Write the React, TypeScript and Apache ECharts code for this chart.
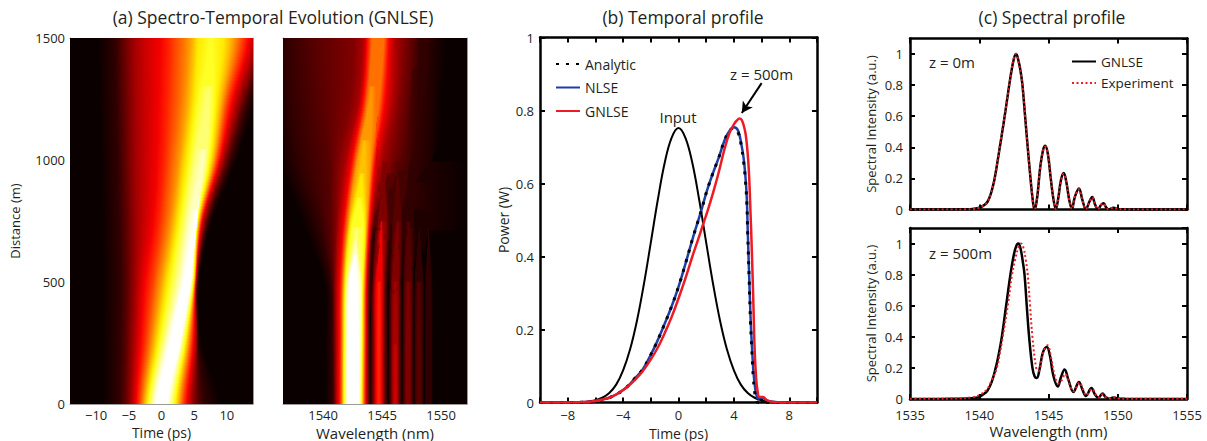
import React, { useEffect, useRef } from "react";
import * as echarts from "echarts";

const FONT = "Open Sans";
const INK = "#231f20";

// ---- panel (a) left: contours of the evolution map in time (first level = edge of the black)
const mapLevels = [0, 0.06, 0.12, 0.18, 0.24, 0.3, 0.36, 0.42, 0.48, 0.54, 0.6, 0.66, 0.72, 0.78, 0.84, 0.9, 0.96];
const timeZ = [0, 250, 500, 750, 1000, 1250, 1500];
const timeTipZ = [null, null, null, null, null, null, null, null, null, null, null, null, null, null, 1300, 1050, 850];
const timeLeft = [
  [-9, -9, -9, -9.2, -9.4, -9.6, -9.8],
  [-6.47, -6.4, -6.3, -6.5, -6.7, -6.9, -7.0],
  [-5.62, -5.45, -5.3, -5.5, -5.7, -5.9, -6.1],
  [-5.05, -4.85, -4.6, -4.6, -4.8, -4.9, -5.1],
  [-4.61, -4.25, -3.9, -3.7, -3.8, -3.9, -4.0],
  [-4.23, -3.75, -3.3, -2.5, -2.3, -2.3, -2.4],
  [-3.9, -3.25, -2.6, -1.3, -0.7, -0.4, -0.2],
  [-3.6, -2.75, -1.9, -0.5, 0.3, 0.8, 1.1],
  [-3.31, -2.3, -1.2, 0.2, 1.1, 1.8, 2.1],
  [-3.03, -1.85, -0.7, 0.9, 1.9, 2.9, 3.3],
  [-2.76, -1.45, -0.1, 1.5, 2.7, 3.7, 4.3],
  [-2.5, -1.05, 0.4, 2.0, 3.2, 4.4, 5.0],
  [-2.21, -0.65, 0.9, 2.5, 3.8, 5.0, 5.6],
  [-1.92, -0.25, 1.45, 3.0, 4.4, 5.7, 7.6],
  [-1.61, 0.2, 2.1, 3.6, 5.0, 7.2],
  [-1.25, 0.7, 2.8, 4.2, 6.5],
  [-0.78, 1.25, 3.3, 5.7],
];
const timeRight = [
  [9, 6.2, 5.8, 7.7, 11.5, 14.5, 18],
  [6.47, 5.6, 5.5, 7.2, 10.6, 13.4, 16.5],
  [5.62, 5.5, 5.45, 6.9, 10.1, 12.8, 15.8],
  [5.05, 5.4, 5.4, 6.7, 9.7, 12.3, 15.2],
  [4.61, 5.25, 5.35, 6.5, 9.4, 11.8, 14.6],
  [4.23, 5.05, 5.3, 6.35, 9.1, 11.3, 14.0],
  [3.9, 4.9, 5.25, 6.2, 8.9, 10.9, 13.4],
  [3.6, 4.7, 5.2, 6.1, 8.7, 10.5, 12.9],
  [3.31, 4.5, 5.15, 6.0, 8.45, 10.1, 12.3],
  [3.03, 4.3, 5.1, 5.9, 8.25, 9.75, 11.7],
  [2.76, 4.1, 5.05, 5.8, 8.05, 9.4, 11.1],
  [2.5, 3.9, 5.0, 5.7, 7.8, 9.0, 10.4],
  [2.21, 3.7, 4.9, 5.6, 7.55, 8.5, 9.5],
  [1.92, 3.5, 4.8, 5.5, 7.2, 8.0, 7.6],
  [1.61, 3.25, 4.7, 5.4, 6.9, 7.2],
  [1.25, 3.0, 4.6, 5.3, 6.5],
  [0.78, 2.8, 4.4, 5.7],
];

// ---- panel (a) right: contours in wavelength
const waveZ = [0, 250, 500, 750, 1000, 1250, 1500];
const waveTipZ = [null, null, null, null, null, null, null, null, null, null, 1300, 1080, 950, 850, 720, 680, 620];
const waveLeft = [
  [1540.2, 1540.2, 1540.1, 1538.2, 1536.2, 1535.5, 1535],
  [1540.8, 1540.75, 1540.65, 1539.6, 1538.0, 1537.2, 1536.9],
  [1540.95, 1540.9, 1540.85, 1540.6, 1540.5, 1539.8, 1539.3],
  [1541.0, 1541.0, 1540.98, 1541.1, 1541.3, 1542.3, 1542.6],
  [1541.1, 1541.1, 1541.1, 1541.3, 1541.9, 1543.0, 1543.35],
  [1541.2, 1541.2, 1541.25, 1541.55, 1542.15, 1543.2, 1543.6],
  [1541.33, 1541.35, 1541.4, 1541.75, 1542.4, 1543.35, 1543.7],
  [1541.43, 1541.45, 1541.5, 1541.85, 1542.55, 1543.5, 1543.85],
  [1541.5, 1541.52, 1541.58, 1541.95, 1542.65, 1543.6, 1544.0],
  [1541.57, 1541.58, 1541.65, 1542.05, 1542.78, 1543.75, 1544.15],
  [1541.63, 1541.65, 1541.72, 1542.15, 1542.9, 1544.1],
  [1541.68, 1541.7, 1541.78, 1542.25, 1543.5],
  [1541.73, 1541.75, 1541.85, 1542.35, 1543.25],
  [1541.8, 1541.82, 1541.92, 1542.5, 1543.05],
  [1541.88, 1541.9, 1542.0, 1542.8],
  [1541.98, 1542.0, 1542.1, 1542.75],
  [1542.1, 1542.12, 1542.25, 1542.7],
];
const waveRight = [
  [1544.0, 1544.0, 1544.15, 1544.9, 1549.3, 1550, 1550.5],
  [1543.95, 1543.95, 1544.05, 1544.6, 1547.6, 1548.4, 1548.8],
  [1543.87, 1543.87, 1543.95, 1544.4, 1546.6, 1547.3, 1547.7],
  [1543.8, 1543.8, 1543.85, 1544.25, 1545.7, 1546.5, 1546.9],
  [1543.74, 1543.75, 1543.8, 1544.15, 1545.0, 1546.0, 1546.2],
  [1543.68, 1543.7, 1543.75, 1544.05, 1544.7, 1545.6, 1545.85],
  [1543.62, 1543.65, 1543.7, 1544.0, 1544.45, 1545.3, 1545.6],
  [1543.56, 1543.6, 1543.65, 1543.9, 1544.35, 1545.1, 1545.45],
  [1543.5, 1543.55, 1543.6, 1543.85, 1544.25, 1544.95, 1545.3],
  [1543.45, 1543.5, 1543.55, 1543.8, 1544.15, 1544.75, 1545.15],
  [1543.4, 1543.45, 1543.5, 1543.72, 1544.0, 1544.1],
  [1543.35, 1543.4, 1543.45, 1543.65, 1543.5],
  [1543.3, 1543.35, 1543.4, 1543.55, 1543.25],
  [1543.24, 1543.28, 1543.32, 1543.4, 1543.05],
  [1543.18, 1543.22, 1543.25, 1542.8],
  [1543.1, 1543.15, 1543.15, 1542.75],
  [1543.0, 1543.0, 1542.85, 1542.7],
];
// side lobes of the spectrum: level, left edge, right edge (knots at lobeZ, last knot is the tip)
const lobeZ = [0, 250, 500, 750, 1000];
const lobeLevels = [0, 0.06, 0.12, 0.18, 0.24, 0.3, 0.36, 0.42, 0, 0.06, 0.12, 0.18, 0.24, 0.3, 0, 0.06, 0.12, 0.18, 0, 0.06, 0.12, 0, 0.06];
const lobeLeft = [
  [1543.98, 1543.98, 1544.0, 1544.25, 1545.3],
  [1544.02, 1544.03, 1544.06, 1544.3, 1545.3],
  [1544.17, 1544.17, 1544.2, 1544.55, 1545.2],
  [1544.27, 1544.27, 1544.3, 1544.7, 1545.1],
  [1544.34, 1544.34, 1544.37, 1545.05],
  [1544.42, 1544.42, 1544.45, 1545.0],
  [1544.5, 1544.5, 1544.55, 1544.95],
  [1544.65, 1544.65, 1544.75],
  [1545.52, 1545.52, 1545.55, 1545.8, 1546.3],
  [1545.62, 1545.62, 1545.65, 1545.85, 1546.3],
  [1545.75, 1545.75, 1545.78, 1546.0, 1546.3],
  [1545.83, 1545.83, 1545.86, 1546.3],
  [1545.92, 1545.92, 1546.12],
  [1546.05, 1546.12],
  [1546.7, 1546.7, 1546.72, 1546.85, 1547.3],
  [1546.78, 1546.78, 1546.8, 1546.95, 1547.3],
  [1546.92, 1546.92, 1546.95, 1547.25],
  [1547.05, 1547.05, 1547.2],
  [1547.72, 1547.72, 1547.72, 1548.15],
  [1547.78, 1547.78, 1547.8, 1548.15],
  [1547.98, 1547.98, 1548.12],
  [1548.6, 1548.6, 1548.62, 1548.95],
  [1548.72, 1548.72, 1548.75, 1548.95],
];
const lobeRight = [
  [1545.52, 1545.52, 1545.54, 1545.8, 1545.3],
  [1545.42, 1545.42, 1545.44, 1545.7, 1545.3],
  [1545.27, 1545.27, 1545.3, 1545.5, 1545.2],
  [1545.17, 1545.17, 1545.2, 1545.4, 1545.1],
  [1545.1, 1545.1, 1545.13, 1545.05],
  [1545.02, 1545.02, 1545.05, 1545.0],
  [1544.94, 1544.94, 1544.95, 1544.95],
  [1544.8, 1544.8, 1544.75],
  [1546.7, 1546.7, 1546.72, 1546.85, 1546.3],
  [1546.6, 1546.6, 1546.62, 1546.75, 1546.3],
  [1546.48, 1546.48, 1546.5, 1546.6, 1546.3],
  [1546.4, 1546.4, 1546.42, 1546.3],
  [1546.32, 1546.32, 1546.12],
  [1546.2, 1546.12],
  [1547.72, 1547.72, 1547.73, 1547.75, 1547.3],
  [1547.62, 1547.62, 1547.63, 1547.65, 1547.3],
  [1547.48, 1547.48, 1547.5, 1547.25],
  [1547.35, 1547.35, 1547.2],
  [1548.55, 1548.55, 1548.56, 1548.15],
  [1548.45, 1548.45, 1548.46, 1548.15],
  [1548.28, 1548.28, 1548.12],
  [1549.3, 1549.3, 1549.3, 1548.95],
  [1549.15, 1549.15, 1549.12, 1548.95],
];
// the faint haze that fills the gaps between the lobes further along the fibre
const hazeLevels = [0.03, 0.06, 0.09];
const hazeZ = [[450, 600, 750, 1000, 1500], [600, 750, 1000, 1500], [700, 850, 1000, 1500]];
const hazeLeft = [[1546, 1544.5, 1544.3, 1544.5, 1544.5], [1546, 1544.6, 1544.5, 1544.5], [1546, 1544.8, 1544.6, 1544.6]];
const hazeRight = [[1546, 1548, 1549.2, 1549.2, 1549.5], [1546, 1547.5, 1548, 1548.2], [1546, 1546.9, 1547.3, 1547.6]];

// ---- panel (b)
const inputTime = [-10, -8, -7, -6.5, -6, -5.5, -5, -4.5, -4, -3.5, -3, -2.5, -2, -1.5, -1, -0.5, 0, 0.5, 1, 1.5, 2, 2.5, 3, 3.5, 4, 4.5, 5, 5.5, 6, 6.5, 7, 8, 10];
const inputPower = [0, 0, 0, 0.003, 0.006, 0.013, 0.026, 0.049, 0.088, 0.145, 0.224, 0.324, 0.438, 0.554, 0.656, 0.725, 0.752, 0.725, 0.656, 0.554, 0.438, 0.324, 0.224, 0.145, 0.088, 0.049, 0.026, 0.013, 0.006, 0.003, 0, 0, 0];
const nlseTime = [-10, -8, -7, -6.5, -6, -5.5, -5, -4.5, -4, -3.6, -3.2, -2.6, -2.07, -1.6, -1.06, -0.5, 0, 0.5, 1.06, 1.6, 2.05, 2.5, 2.9, 3.34, 3.7, 4, 4.3, 4.55, 4.7, 4.83, 4.93, 5, 5.1, 5.2, 5.3, 5.4, 5.5, 5.6, 5.75, 6, 6.35, 6.8, 7.5, 10];
const nlsePower = [0, 0, 0.001, 0.002, 0.004, 0.008, 0.013, 0.022, 0.034, 0.047, 0.064, 0.09, 0.126, 0.162, 0.21, 0.263, 0.317, 0.38, 0.454, 0.52, 0.58, 0.63, 0.67, 0.72, 0.745, 0.754, 0.745, 0.705, 0.67, 0.62, 0.56, 0.47, 0.35, 0.235, 0.155, 0.09, 0.05, 0.025, 0.011, 0.014, 0.006, 0.002, 0, 0];
const analyticPower = [0, 0, 0.001, 0.002, 0.004, 0.008, 0.013, 0.022, 0.034, 0.047, 0.064, 0.09, 0.126, 0.162, 0.21, 0.263, 0.317, 0.38, 0.454, 0.52, 0.58, 0.63, 0.67, 0.72, 0.745, 0.752, 0.74, 0.7, 0.66, 0.61, 0.55, 0.46, 0.34, 0.22, 0.14, 0.07, 0.03, 0.01, 0, 0, 0, 0, 0, 0];
const gnlseTime = [-10, -8, -7, -6.5, -6, -5.5, -5, -4.5, -4, -3.6, -3.2, -2.6, -2, -1.5, -1, -0.5, 0, 0.5, 1, 1.4, 1.75, 2.1, 2.5, 2.9, 3.34, 3.7, 4, 4.2, 4.4, 4.55, 4.7, 4.85, 5, 5.1, 5.2, 5.3, 5.4, 5.5, 5.6, 5.7, 5.85, 6.1, 6.4, 7, 8, 10];
const gnlsePower = [0, 0, 0.001, 0.002, 0.004, 0.008, 0.013, 0.022, 0.034, 0.046, 0.06, 0.085, 0.118, 0.15, 0.19, 0.234, 0.285, 0.34, 0.4, 0.445, 0.485, 0.525, 0.575, 0.63, 0.697, 0.74, 0.762, 0.772, 0.778, 0.775, 0.76, 0.735, 0.68, 0.62, 0.52, 0.41, 0.28, 0.143, 0.07, 0.034, 0.015, 0.015, 0.006, 0.001, 0, 0];

// ---- panel (c)
const specTop = [1535, 1538, 1539, 1539.5, 1540, 1540.3, 1540.6, 1540.85, 1541, 1541.1, 1541.25, 1541.5, 1541.75, 1542, 1542.25, 1542.5, 1542.66, 1542.85, 1543, 1543.12, 1543.31, 1543.5, 1543.7, 1543.85, 1543.98, 1544.05, 1544.2, 1544.4, 1544.6, 1544.76, 1544.95, 1545.15, 1545.35, 1545.53, 1545.7, 1545.9, 1546.1, 1546.3, 1546.5, 1546.69, 1546.9, 1547.2, 1547.45, 1547.7, 1547.95, 1548.16, 1548.37, 1548.57, 1548.8, 1548.98, 1549.15, 1549.34, 1549.7, 1550, 1550.5, 1551, 1555];
const gnlseTop = [0, 0, 0.001, 0.003, 0.012, 0.025, 0.05, 0.105, 0.155, 0.195, 0.27, 0.41, 0.55, 0.7, 0.85, 0.97, 1, 0.95, 0.88, 0.8, 0.6, 0.4, 0.2, 0.07, 0.005, 0.008, 0.09, 0.27, 0.38, 0.41, 0.36, 0.21, 0.07, 0.003, 0.07, 0.19, 0.235, 0.17, 0.06, 0.003, 0.08, 0.135, 0.06, 0.002, 0.05, 0.08, 0.03, 0.001, 0.03, 0.04, 0.015, 0.001, 0.012, 0.003, 0.001, 0, 0];
const experimentTop = [0, 0, 0.001, 0.003, 0.011, 0.026, 0.05, 0.107, 0.155, 0.193, 0.27, 0.415, 0.555, 0.7, 0.85, 0.975, 1, 0.945, 0.875, 0.8, 0.605, 0.4, 0.2, 0.072, 0.006, 0.008, 0.09, 0.27, 0.375, 0.405, 0.355, 0.21, 0.07, 0.004, 0.07, 0.185, 0.23, 0.17, 0.06, 0.004, 0.08, 0.13, 0.06, 0.003, 0.05, 0.078, 0.03, 0.002, 0.03, 0.038, 0.015, 0.002, 0.012, 0.003, 0.001, 0, 0];
const specGnlseBottom = [1535, 1538, 1539, 1539.9, 1540.3, 1540.6, 1540.9, 1541.19, 1541.4, 1541.63, 1541.94, 1542.25, 1542.5, 1542.7, 1542.83, 1543, 1543.15, 1543.27, 1543.43, 1543.6, 1543.84, 1544, 1544.16, 1544.35, 1544.6, 1544.88, 1545.1, 1545.35, 1545.67, 1545.9, 1546.16, 1546.45, 1546.8, 1547.2, 1547.45, 1547.7, 1548.1, 1548.35, 1548.6, 1548.9, 1549.1, 1549.35, 1549.7, 1550, 1550.5, 1551, 1555];
const gnlseBottom = [0, 0.001, 0.003, 0.01, 0.03, 0.055, 0.11, 0.2, 0.285, 0.4, 0.6, 0.8, 0.93, 0.99, 1, 0.96, 0.88, 0.8, 0.6, 0.4, 0.2, 0.145, 0.135, 0.19, 0.3, 0.335, 0.28, 0.15, 0.08, 0.14, 0.19, 0.12, 0.045, 0.11, 0.06, 0.02, 0.07, 0.03, 0.008, 0.035, 0.015, 0.002, 0.01, 0.003, 0.001, 0, 0];
const specExpBottom = [1535, 1537, 1538.5, 1539.58, 1540, 1540.54, 1540.9, 1541.27, 1541.5, 1541.7, 1542.06, 1542.37, 1542.6, 1542.85, 1543.02, 1543.2, 1543.35, 1543.5, 1543.67, 1543.84, 1544.11, 1544.28, 1544.5, 1544.7, 1544.93, 1545.2, 1545.45, 1545.72, 1545.95, 1546.2, 1546.5, 1546.8, 1547.24, 1547.5, 1547.72, 1548.15, 1548.4, 1548.6, 1548.9, 1549.15, 1549.4, 1549.7, 1550, 1551, 1555];
const experimentBottom = [0.001, 0.002, 0.004, 0.012, 0.025, 0.06, 0.12, 0.2, 0.3, 0.4, 0.6, 0.8, 0.9, 0.98, 1, 0.97, 0.9, 0.8, 0.6, 0.4, 0.2, 0.18, 0.25, 0.32, 0.345, 0.26, 0.15, 0.1, 0.12, 0.16, 0.1, 0.05, 0.105, 0.06, 0.025, 0.065, 0.03, 0.01, 0.03, 0.012, 0.003, 0.01, 0.004, 0.001, 0.001];

const timeTicks = [-10, -5, 0, 5, 10];
const waveTicks = [1540, 1545, 1550];

const zip = (x: number[], y: number[]) => x.map((v, i) => [v, y[i]]);
const clamp = (v: number) => Math.max(0, Math.min(1, v));
const hot = (i: number) =>
  `rgb(${Math.round(10 + 245 * clamp(i / 0.375))},${Math.round(255 * clamp((i - 0.375) / 0.375))},${Math.round(255 * clamp((i - 0.75) / 0.2))})`;
const minus = (v: any) => String(v).replace("-", "\u2212");

type Contour = { level: number; z: number[]; left: number[]; right: number[] };

// position of a contour edge at height z, following its knots with a cubic
function edgeAt(z: number, knots: number[], v: number[]) {
  const n = v.length;
  if (z < knots[0] || z > knots[n - 1]) return null;
  if (z === knots[n - 1]) return v[n - 1];
  let k = 0;
  while (k < n - 2 && z >= knots[k + 1]) k++;
  const t = (z - knots[k]) / (knots[k + 1] - knots[k]);
  const p0 = k > 0 ? v[k - 1] : v[k];
  const p1 = v[k];
  const p2 = v[k + 1];
  const p3 = k + 2 < n ? v[k + 2] : v[k + 1];
  return 0.5 * (2 * p1 + (p2 - p0) * t + (2 * p0 - 5 * p1 + 4 * p2 - p3) * t * t + (3 * p1 - p0 - 3 * p2 + p3) * t * t * t);
}

function mapSeries(contours: Contour[], xi: number, yi: number, xMin: number, xMax: number, rows: number) {
  const dz = 1500 / rows;
  return {
    type: "custom",
    xAxisIndex: xi,
    yAxisIndex: yi,
    clip: true,
    silent: true,
    data: Array.from({ length: rows }, (_, i) => [xMin, (i + 0.5) * dz]),
    renderItem: (_: any, api: any) => {
      const z = api.value(1);
      const spans: number[][] = [];
      for (const c of contours) {
        const l = edgeAt(z, c.z, c.left);
        const r = edgeAt(z, c.z, c.right);
        if (l !== null && r !== null && l <= r) spans.push([l, r, c.level]);
      }
      const xs = Array.from(new Set(spans.flatMap((s) => [s[0], s[1]]))).sort((a, b) => a - b);
      const a = Math.min(xMin, xs[0] ?? xMin);
      const b = Math.max(xMax, xs[xs.length - 1] ?? xMax);
      const level = (x: number) => spans.reduce((m, s) => (x >= s[0] && x <= s[1] && s[2] > m ? s[2] : m), 0);
      const stops = [a, ...xs, b].map((x) => ({ offset: clamp((x - a) / (b - a)), color: hot(level(x)) }));
      const p0 = api.coord([a, z + dz / 2]);
      const p1 = api.coord([b, z - dz / 2]);
      return {
        type: "rect",
        shape: { x: p0[0], y: p0[1] - 0.4, width: p1[0] - p0[0], height: p1[1] - p0[1] + 0.8 },
        style: { fill: new echarts.graphic.LinearGradient(0, 0, 1, 0, stops), stroke: null },
      };
    },
  };
}

export default function App() {
  const ref = useRef<HTMLDivElement>(null);
  useEffect(() => {
    const chart = echarts.init(ref.current!, undefined, { renderer: "svg" });
    const label = { color: INK, fontFamily: FONT, fontSize: 13 };
    const nameStyle = (fontSize: number) => ({ color: INK, fontFamily: FONT, fontSize });
    const plain = (v: number) => minus(v);

    const grids = [
      { left: 70, top: 38, width: 183, height: 366, backgroundColor: "#0a0000", show: true, borderWidth: 0, outerBoundsMode: "none" },
      { left: 283, top: 38, width: 184, height: 366, backgroundColor: "#0a0000", show: true, borderWidth: 0, outerBoundsMode: "none" },
      { left: 540, top: 37.5, width: 277, height: 365, show: false, outerBoundsMode: "none" },
      { left: 910, top: 38.5, width: 277, height: 171, show: false, outerBoundsMode: "none" },
      { left: 910, top: 228, width: 277, height: 171, show: false, outerBoundsMode: "none" },
    ];

    const thinLine = { show: true, onZero: false, lineStyle: { color: "#9a9a9a", width: 1 } };
    const boxLine = { show: true, onZero: false, lineStyle: { color: "#000", width: 2.5 } };
    const boxTick = { show: true, inside: true, length: 5, lineStyle: { color: "#000", width: 2 } };

    const xAxis: any[] = [
      { type: "value", gridIndex: 0, min: -14, max: 14, axisLine: thinLine, axisTick: { show: false, customValues: timeTicks }, splitLine: { show: false },
        axisLabel: { ...label, customValues: timeTicks, margin: 4, formatter: plain }, name: "Time (ps)", nameLocation: "middle", nameGap: 20, nameTextStyle: nameStyle(14) },
      { type: "value", gridIndex: 0, position: "top", min: -14, max: 14, axisLine: thinLine, axisTick: { show: false }, axisLabel: { show: false }, splitLine: { show: false } },
      { type: "value", gridIndex: 1, min: 1536.6, max: 1552.2, axisLine: thinLine, axisTick: { show: false, customValues: waveTicks }, splitLine: { show: false },
        axisLabel: { ...label, customValues: waveTicks, margin: 4, formatter: plain }, name: "Wavelength (nm)", nameLocation: "middle", nameGap: 19, nameTextStyle: nameStyle(15) },
      { type: "value", gridIndex: 1, position: "top", min: 1536.6, max: 1552.2, axisLine: thinLine, axisTick: { show: false }, axisLabel: { show: false }, splitLine: { show: false } },
      { type: "value", gridIndex: 2, min: -10, max: 10, interval: 2, axisLine: boxLine, axisTick: boxTick, splitLine: { show: false },
        axisLabel: { ...label, margin: 6, formatter: (v: number) => (v % 4 === 0 ? minus(v) : "") }, name: "Time (ps)", nameLocation: "middle", nameGap: 21, nameTextStyle: nameStyle(14) },
      { type: "value", gridIndex: 2, position: "top", min: -10, max: 10, interval: 2, axisLine: boxLine, axisTick: boxTick, axisLabel: { show: false }, splitLine: { show: false } },
      { type: "value", gridIndex: 3, min: 1535, max: 1555, interval: 5, axisLine: boxLine, axisTick: boxTick, axisLabel: { show: false }, splitLine: { show: false } },
      { type: "value", gridIndex: 3, position: "top", min: 1535, max: 1555, interval: 5, axisLine: boxLine, axisTick: boxTick, axisLabel: { show: false }, splitLine: { show: false } },
      { type: "value", gridIndex: 4, min: 1535, max: 1555, interval: 5, axisLine: boxLine, axisTick: boxTick, splitLine: { show: false },
        axisLabel: { ...label, margin: 9, formatter: plain }, name: "Wavelength (nm)", nameLocation: "middle", nameGap: 24, nameTextStyle: nameStyle(15) },
      { type: "value", gridIndex: 4, position: "top", min: 1535, max: 1555, interval: 5, axisLine: boxLine, axisTick: boxTick, axisLabel: { show: false }, splitLine: { show: false } },
    ];

    const yAxis: any[] = [
      { type: "value", gridIndex: 0, min: 0, max: 1500, interval: 500, axisLine: thinLine, axisTick: { show: false }, splitLine: { show: false },
        axisLabel: { ...label, margin: 5, formatter: plain }, name: "Distance (m)", nameLocation: "middle", nameGap: 49, nameTextStyle: nameStyle(13) },
      { type: "value", gridIndex: 0, position: "right", min: 0, max: 1500, axisLine: thinLine, axisTick: { show: false }, axisLabel: { show: false }, splitLine: { show: false } },
      { type: "value", gridIndex: 1, min: 0, max: 1500, axisLine: thinLine, axisTick: { show: false }, axisLabel: { show: false }, splitLine: { show: false } },
      { type: "value", gridIndex: 1, position: "right", min: 0, max: 1500, axisLine: thinLine, axisTick: { show: false }, axisLabel: { show: false }, splitLine: { show: false } },
      { type: "value", gridIndex: 2, min: 0, max: 1, interval: 0.2, axisLine: boxLine, axisTick: boxTick, splitLine: { show: false },
        axisLabel: { ...label, margin: 6 }, name: "Power (W)", nameLocation: "middle", nameGap: 30, nameTextStyle: nameStyle(14) },
      { type: "value", gridIndex: 2, position: "right", min: 0, max: 1, interval: 0.2, axisLine: boxLine, axisTick: boxTick, axisLabel: { show: false }, splitLine: { show: false } },
      { type: "value", gridIndex: 3, min: 0, max: 1.1, interval: 0.2, axisLine: boxLine, axisTick: boxTick, splitLine: { show: false },
        axisLabel: { ...label, margin: 7, showMaxLabel: false }, name: "Spectral Intensity (a.u.)", nameLocation: "middle", nameGap: 33, nameTextStyle: nameStyle(13) },
      { type: "value", gridIndex: 3, position: "right", min: 0, max: 1.1, interval: 0.2, axisLine: boxLine, axisTick: boxTick, axisLabel: { show: false }, splitLine: { show: false } },
      { type: "value", gridIndex: 4, min: 0, max: 1.1, interval: 0.2, axisLine: boxLine, axisTick: boxTick, splitLine: { show: false },
        axisLabel: { ...label, margin: 7, showMaxLabel: false }, name: "Spectral Intensity (a.u.)", nameLocation: "middle", nameGap: 33, nameTextStyle: nameStyle(13) },
      { type: "value", gridIndex: 4, position: "right", min: 0, max: 1.1, interval: 0.2, axisLine: boxLine, axisTick: boxTick, axisLabel: { show: false }, splitLine: { show: false } },
    ];

    const line = (name: string, x: number[], y: number[], xi: number, yi: number, color: string, width: number, type: any, extra: any = {}) => ({
      type: "line", name, xAxisIndex: xi, yAxisIndex: yi, data: zip(x, y), showSymbol: false, symbol: "none", smooth: 0.4, silent: true,
      lineStyle: { color, width, type }, itemStyle: { color }, ...extra,
    });

    const RED = "#ed1c24";
    const withTip = (z: number[], n: number, tip: number | null) => (tip === null ? z.slice(0, n) : [...z.slice(0, n - 1), tip]);
    const timeContours = mapLevels.map((level, i) => ({ level, z: withTip(timeZ, timeLeft[i].length, timeTipZ[i]), left: timeLeft[i], right: timeRight[i] }));
    const waveContours = [
      ...mapLevels.map((level, i) => ({ level, z: withTip(waveZ, waveLeft[i].length, waveTipZ[i]), left: waveLeft[i], right: waveRight[i] })),
      ...lobeLevels.map((level, i) => ({ level, z: lobeZ.slice(0, lobeLeft[i].length), left: lobeLeft[i], right: lobeRight[i] })),
      ...hazeLevels.map((level, i) => ({ level, z: hazeZ[i], left: hazeLeft[i], right: hazeRight[i] })),
    ];

    const series: any[] = [
      mapSeries(timeContours, 0, 0, -14, 14, 122),
      mapSeries(waveContours, 2, 2, 1536.6, 1552.2, 122),
      line("Input", inputTime, inputPower, 4, 4, "#000", 2, "solid"),
      line("NLSE", nlseTime, nlsePower, 4, 4, "#1b3fa8", 2.5, "solid"),
      line("Analytic", nlseTime, analyticPower, 4, 4, "#000", 3, [3, 7]),
      line("GNLSE", gnlseTime, gnlsePower, 4, 4, RED, 2.5, "solid", {
        markLine: {
          silent: true, animation: false, symbol: ["none", "arrow"], symbolSize: [9, 11],
          lineStyle: { color: "#000", width: 2, type: "solid" }, label: { show: false },
          data: [[{ coord: [6.0, 0.875] }, { coord: [4.57, 0.793] }]],
        },
      }),
      line("GNLSE z=0", specTop, gnlseTop, 6, 6, "#000", 2.5, "solid"),
      line("Experiment z=0", specTop, experimentTop, 6, 6, RED, 2, [2, 2.5]),
      line("GNLSE z=500", specGnlseBottom, gnlseBottom, 8, 8, "#000", 2.5, "solid"),
      line("Experiment z=500", specExpBottom, experimentBottom, 8, 8, RED, 2, [2, 2.5]),
    ];

    const titleStyle = { color: INK, fontFamily: FONT, fontSize: 17.5, fontWeight: "normal" as const };
    const annot = (text: string, x: number, y: number, align = "left") => ({
      type: "text", x, y, silent: true,
      style: { text, fill: INK, font: `15px "${FONT}"`, textAlign: align, textVerticalAlign: "middle" },
    });

    chart.setOption({
      animation: false,
      backgroundColor: "#fff",
      title: [
        { text: "(a) Spectro-Temporal Evolution (GNLSE)", left: 268, top: 3, textAlign: "center", textStyle: titleStyle },
        { text: "(b) Temporal profile", left: 678, top: 3, textAlign: "center", textStyle: titleStyle },
        { text: "(c) Spectral profile", left: 1047, top: 3, textAlign: "center", textStyle: titleStyle },
      ],
      grid: grids,
      xAxis,
      yAxis,
      series,
      legend: [
        { data: ["Analytic", "NLSE", "GNLSE"], orient: "vertical", left: 550, top: 52, itemWidth: 24, itemHeight: 14, itemGap: 9.5, selectedMode: false,
          itemStyle: { opacity: 0 }, textStyle: { ...label, fontSize: 14 } },
        { data: ["GNLSE z=0", "Experiment z=0"], orient: "vertical", left: 1066, top: 49.5, itemWidth: 24, itemHeight: 14, itemGap: 7.5, selectedMode: false,
          itemStyle: { opacity: 0 }, textStyle: { ...label, fontSize: 13.5 }, formatter: (n: string) => n.split(" ")[0] },
      ],
      graphic: [
        annot("Input", 678, 117, "center"),
        annot("z = 500m", 730, 74),
        annot("z = 0m", 929, 62),
        annot("z = 500m", 929, 253),
      ],
    });
    return () => chart.dispose();
  }, []);
  return <div ref={ref} style={{ position: "absolute", left: 0, top: 0, width: 1207, height: 441 }} />;
}
